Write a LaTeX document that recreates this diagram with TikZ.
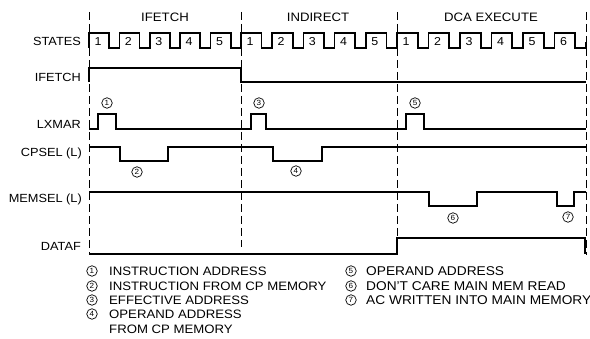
\documentclass[tikz,border=0pt]{standalone}
\usepackage{fontspec}
\setmainfont{Liberation Sans}[FakeStretch=1.08]
\begin{document}
\begin{tikzpicture}[x=1pt,y=-1pt,
  sig/.style={line width=1.7pt, line join=miter},
  grid/.style={line width=0.8pt, dash pattern=on 8pt off 4pt},
  lbl/.style={anchor=east, inner sep=0pt, font=\fontsize{11.8}{12}\selectfont},
  hdr/.style={inner sep=0pt, font=\fontsize{12.2}{13}\selectfont},
  num/.style={inner sep=0pt, font=\fontsize{11.5}{12}\selectfont},
  cnum/.style={circle, draw, line width=0.7pt, inner sep=0pt, minimum size=10.5pt, font=\fontsize{7.5}{7.5}\selectfont},
  leg/.style={anchor=west, inner sep=0pt, font=\fontsize{12.2}{13}\selectfont},
  legr/.style={anchor=west, inner sep=0pt, font=\fontsize{12.7}{13}\selectfont}]
\useasboundingbox (0,0) rectangle (590,339);
% dashed phase boundaries
\draw[grid] (89,12) -- (89,255);
\draw[grid] (241,12) -- (241,247);
\draw[grid] (397,12) -- (397,238);
\draw[grid] (586,12) -- (586,255);
% headers
\node[hdr] (hIF) at (165,17) {IFETCH};
\node[hdr] (hIN) at (318,17) {INDIRECT};
\node[hdr] (hDCA) at (491,17) {DCA EXECUTE};
% signal labels
\node[lbl] (lS) at (81,41) {STATES};
\node[lbl] (lIF) at (81,77) {IFETCH};
\node[lbl] (lLX) at (81,124) {LXMAR};
\node[lbl] (lCP) at (82,153) {CPSEL (L)};
\node[lbl] (lMS) at (82,199) {MEMSEL (L)};
\node[lbl] (lDF) at (81,246) {DATAF};
% STATES waveform
\draw[sig] (89,48)
  \foreach \r/\p in {89/30.4,119.4/30.4,149.8/30.4,180.2/30.4,210.6/30.4,
                     241/31.2,272.2/31.2,303.4/31.2,334.6/31.2,365.8/31.2,
                     397/31.5,428.5/31.5,460/31.5,491.5/31.5,523/31.5,554.5/31.5}
  { -- (\r,48) -- (\r,33) -- ({\r+0.66*\p},33) -- ({\r+0.66*\p},48) }
  -- (586,48) -- (586,42);
\foreach \r/\n [count=\i] in {89/1,119.4/2,149.8/3,180.2/4,210.6/5,
                     241/1,272.2/2,303.4/3,334.6/4,365.8/5,
                     397/1,428.5/2,460/3,491.5/4,523/5,554.5/6}
  \node[num] (s\i) at ({\r+9},41.5) {\n};
% IFETCH
\draw[sig] (89,82) -- (89,68) -- (241,68) -- (241,82) -- (586,82);
% LXMAR
\draw[sig] (89,129) -- (98,129) -- (98,114) -- (116,114) -- (116,129)
  -- (251,129) -- (251,114) -- (266,114) -- (266,129)
  -- (406,129) -- (406,114) -- (424,114) -- (424,129) -- (586,129);
\node[cnum] (c1) at (107,103) {1};
\node[cnum] (c3) at (259,103) {3};
\node[cnum] (c5) at (415,103) {5};
% CPSEL
\draw[sig] (89,147) -- (120,147) -- (120,161) -- (168,161) -- (168,147)
  -- (273,147) -- (273,161) -- (322,161) -- (322,147) -- (586,147);
\node[cnum] (c2) at (137,172) {2};
\node[cnum] (c4) at (296,171) {4};
% MEMSEL
\draw[sig] (89,192) -- (429,192) -- (429,206) -- (477,206) -- (477,192)
  -- (557,192) -- (557,206) -- (574,206) -- (574,192) -- (586,192);
\node[cnum] (c6) at (453,218) {6};
\node[cnum] (c7) at (568,217) {7};
% DATAF
\draw[sig] (89,254) -- (397,254) -- (397,238) -- (585,238) -- (585,254);
% legend
\node[cnum] (l1) at (92,271) {1};
\node[leg] (t1) at (109,271) {INSTRUCTION ADDRESS};
\node[cnum] (l2) at (92,286) {2};
\node[leg] (t2) at (109,286) {INSTRUCTION FROM CP MEMORY};
\node[cnum] (l3) at (92,300) {3};
\node[leg] (t3) at (109,300) {EFFECTIVE ADDRESS};
\node[cnum] (l4) at (92,314) {4};
\node[leg] (t4) at (109,314) {OPERAND ADDRESS};
\node[leg] (t4b) at (109,329) {FROM CP MEMORY};
\node[cnum] (l5) at (351,271) {5};
\node[legr] (t5) at (366,271) {OPERAND ADDRESS};
\node[cnum] (l6) at (351,286) {6};
\node[legr] (t6) at (366,286) {DON'T CARE MAIN MEM READ};
\node[cnum] (l7) at (351,300) {7};
\node[legr] (t7) at (366,300) {AC WRITTEN INTO MAIN MEMORY};
\end{tikzpicture}
\end{document}
